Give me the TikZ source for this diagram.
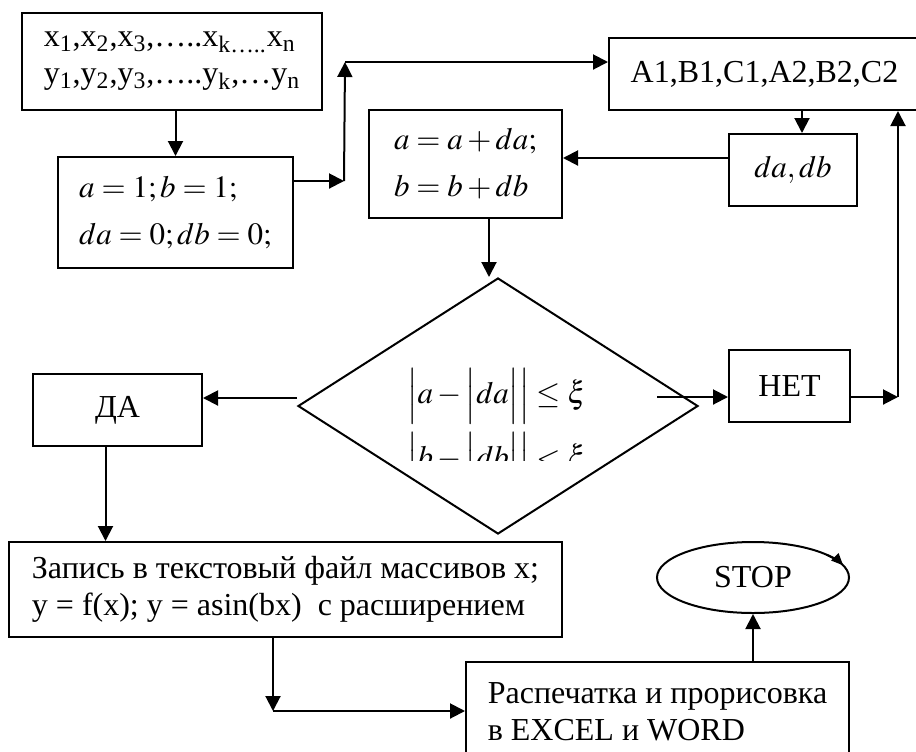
\documentclass[tikz,border=0pt]{standalone}
\usepackage{mathptmx}
\usepackage{fontspec}
\setmainfont{Liberation Serif}
\usetikzlibrary{shapes.geometric,arrows.meta,positioning}

\begin{document}
\begin{tikzpicture}[
        x=0.5pt, y=-0.5pt,
        block/.style={
            rectangle,
            draw,
            line width=1pt,
            align=left,
            inner sep=0pt,
            font=\fontsize{16}{18.5}\selectfont
        },
        mathblock/.style={
            block,
            font=\fontsize{15.5}{23.5}\selectfont
        },
        decision/.style={
            diamond,
            draw,
            line width=1pt,
            minimum width=200pt,
            minimum height=128pt,
            aspect=1.5625,
            inner sep=0pt
        },
        terminal/.style={
            ellipse,
            draw,
            line width=1pt,
            inner sep=0pt,
            font=\fontsize{16}{18.5}\selectfont
        },
        arrow/.style={
            -{Triangle[length=7.5pt,width=7.5pt]},
            line width=1pt
        }
    ]
        \useasboundingbox (0,0) rectangle (916,751);
        \clip (0,0) rectangle (916,751);

        % Input data and initial values
        \node[block, minimum width=150pt, minimum height=48.5pt] (data) at (172,61.5)
            {x\textsubscript{1},x\textsubscript{2},x\textsubscript{3},…..x\textsubscript{k…..}x\textsubscript{n}\\
             y\textsubscript{1},y\textsubscript{2},y\textsubscript{3},…..y\textsubscript{k},…y\textsubscript{n}};
        \node[mathblock, minimum width=117.5pt, minimum height=55.5pt] (init) at (175.5,212.5)
            {\(a=1; b=1;\)\\ \(da=0; db=0;\)};

        % Coefficients and steps
        \node[block, minimum width=155.5pt, minimum height=36pt] (coef) at (764.5,74)
            {A1,B1,C1,A2,B2,C2};
        \node[mathblock, minimum width=64pt, minimum height=36pt] (dadb) at (793,170)
            {\(da, db\)};
        \node[mathblock, minimum width=96.5pt, minimum height=54pt] (upd) at (465.5,164)
            {\(a=a+da;\)\\ \(b=b+db\)};

        % Test
        \node[decision] (cond) at (498,406) {};
        \begin{scope}
            \clip (400,340) rectangle (600,460);
            \node[align=center, font=\fontsize{15.5}{32}\selectfont] (condtext) at (497,428)
                {\(\Big|a-\Big|da\Big|\Big|\le\xi\)\\
                 \(\Big|b-\Big|db\Big|\Big|<\xi\)};
        \end{scope}
        \node[block, align=center, minimum width=60.5pt, minimum height=36pt] (net) at (789.5,386) {НЕТ};
        \node[block, align=center, minimum width=84.5pt, minimum height=36pt] (da) at (117.5,410) {ДА};

        % Output
        \node[block, minimum width=276.5pt, minimum height=47.5pt] (zap) at (285.5,589.5)
            {Запись в текстовый файл массивов x;\\
             y = f(x); y = asin(bx) \ с расширением};
        \node[block, minimum width=191.5pt, minimum height=50pt] (print) at (657.5,712)
            {Распечатка и прорисовка\\ в EXCEL и WORD};
        \node[terminal, minimum width=96pt, minimum height=35.5pt] (stop) at (753,577.5) {STOP};

        \coordinate (j1) at (344,181);
        \coordinate (j2) at (345,62);
        \coordinate (n1) at (657,397);
        \coordinate (r1) at (898,397);
        \coordinate (b1) at (273,711);

        \draw[arrow] (init.north |- data.south) -- (init.north);
        \draw[arrow] (init.east |- j1) -- (j1);
        \draw[arrow] (j1) -- (j2);
        \draw[arrow] (j2) -- (j2 -| coef.west);
        \draw[arrow] ([xshift=4.5pt]dadb.north |- coef.south) -- ([xshift=4.5pt]dadb.north);
        \draw[arrow] ([yshift=6pt]dadb.west) -- ([yshift=6pt]dadb.west -| upd.east);
        \draw[arrow] ([xshift=-4.5pt]cond.north |- upd.south) -- ([xshift=-4.5pt]cond.north);
        \draw[arrow] (n1) -- (n1 -| net.west);
        \draw[arrow] (n1 -| net.east) -- (r1);
        \draw[arrow] (r1) -- (r1 |- coef.south);
        \draw[arrow] ([yshift=6pt]da.east -| cond.west) -- ([yshift=6pt]da.east);
        \draw[arrow] ([xshift=-6pt]da.south) -- ([xshift=-6pt]da.south |- zap.north);
        \draw[arrow] (zap.south -| b1) -- (b1);
        \draw[arrow] (b1) -- (b1 -| print.west);
        \draw[arrow] (print.north -| stop.south) -- (stop.south);
        \draw[-{Triangle[length=6pt,width=5pt]}, line width=1pt]
            ([shift={(-40:96 and 35.5)}]stop.center)
            arc[start angle=-40, end angle=-20, x radius=96, y radius=35.5];

    \end{tikzpicture}
\end{document}
